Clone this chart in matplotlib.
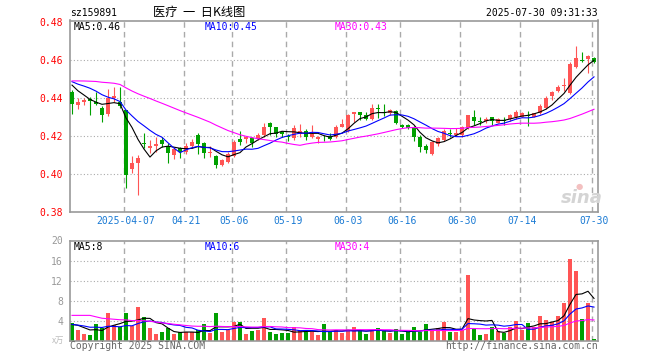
import numpy as np
import pandas as pd
import matplotlib
matplotlib.use('Agg')
import matplotlib.pyplot as plt

#### Data

code = 'sz159891'
title = '医疗  一  日K线图'
stamp = '2025-07-30 09:31:33'

holidays = ['2025-04-04', '2025-05-01', '2025-05-02', '2025-05-05', '2025-06-02']
days = pd.bdate_range('2025-03-24', '2025-07-30')
days = days[~days.isin(pd.to_datetime(holidays))]

tick_dates = ['2025-04-07', '2025-04-21', '2025-05-06', '2025-05-19', '2025-06-03',
              '2025-06-16', '2025-06-30', '2025-07-14', '2025-07-30']
tick_labels = ['2025-04-07', '04-21', '05-06', '05-19', '06-03',
               '06-16', '06-30', '07-14', '07-30']

# closes before the window, only used to seed the moving averages
pre_close = [0.438, 0.440, 0.442, 0.441, 0.4435, 0.447, 0.450, 0.455, 0.453, 0.456,
             0.452, 0.454, 0.451, 0.455, 0.4525, 0.449, 0.452, 0.450, 0.451, 0.452,
             0.451, 0.449, 0.450, 0.452, 0.450, 0.453, 0.450, 0.450, 0.444]

opens = [0.4432, 0.4362, 0.4379, 0.4393, 0.4379, 0.4347, 0.4316, 0.4402, 0.4380, 0.4337,
         0.4026, 0.4060, 0.4162, 0.4139, 0.4147, 0.4179, 0.4147, 0.4100, 0.4135, 0.4117,
         0.4147, 0.4205, 0.4162, 0.4109, 0.4095, 0.4047, 0.4065, 0.4095, 0.4182, 0.4182,
         0.4188, 0.4182, 0.4204, 0.4267, 0.4246, 0.4219, 0.4197, 0.4188, 0.4209, 0.4226,
         0.4196, 0.4186, 0.4186, 0.4200, 0.4196, 0.4249, 0.4228, 0.4316, 0.4326, 0.4311,
         0.4288, 0.4349, 0.4325, 0.4323, 0.4333, 0.4256, 0.4258, 0.4244, 0.4196, 0.4149,
         0.4105, 0.4156, 0.4179, 0.4217, 0.4205, 0.4205, 0.4240, 0.4298, 0.4277, 0.4281,
         0.4298, 0.4270, 0.4284, 0.4288, 0.4298, 0.4302, 0.4311, 0.4302, 0.4319, 0.4346,
         0.4412, 0.4437, 0.4462, 0.4425, 0.4565, 0.4600, 0.4605, 0.4612]
highs = [0.4440, 0.4398, 0.4400, 0.4404, 0.4433, 0.4358, 0.4447, 0.4456, 0.4456, 0.4337,
         0.4095, 0.4100, 0.4215, 0.4180, 0.4197, 0.4196, 0.4165, 0.4144, 0.4144, 0.4162,
         0.4182, 0.4214, 0.4170, 0.4147, 0.4100, 0.4080, 0.4117, 0.4179, 0.4226, 0.4200,
         0.4196, 0.4215, 0.4270, 0.4272, 0.4249, 0.4226, 0.4210, 0.4258, 0.4262, 0.4235,
         0.4258, 0.4198, 0.4205, 0.4217, 0.4258, 0.4288, 0.4316, 0.4328, 0.4328, 0.4328,
         0.4368, 0.4368, 0.4368, 0.4342, 0.4337, 0.4263, 0.4263, 0.4254, 0.4203, 0.4158,
         0.4172, 0.4196, 0.4235, 0.4235, 0.4244, 0.4254, 0.4312, 0.4337, 0.4302, 0.4298,
         0.4300, 0.4293, 0.4302, 0.4316, 0.4337, 0.4325, 0.4332, 0.4323, 0.4367, 0.4412,
         0.4437, 0.4468, 0.4504, 0.4591, 0.4674, 0.4644, 0.4625, 0.4614]
lows = [0.4314, 0.4342, 0.4365, 0.4310, 0.4363, 0.4275, 0.4307, 0.4377, 0.4350, 0.3925,
        0.4004, 0.3891, 0.4135, 0.4112, 0.4118, 0.4144, 0.4060, 0.4080, 0.4082, 0.4105,
        0.4135, 0.4104, 0.4082, 0.4088, 0.4033, 0.4042, 0.4056, 0.4091, 0.4153, 0.4162,
        0.4144, 0.4180, 0.4196, 0.4205, 0.4196, 0.4196, 0.4175, 0.4180, 0.4196, 0.4180,
        0.4190, 0.4162, 0.4175, 0.4180, 0.4191, 0.4246, 0.4223, 0.4275, 0.4284, 0.4284,
        0.4284, 0.4293, 0.4305, 0.4312, 0.4265, 0.4242, 0.4235, 0.4175, 0.4118, 0.4112,
        0.4098, 0.4147, 0.4175, 0.4196, 0.4202, 0.4196, 0.4238, 0.4258, 0.4260, 0.4267,
        0.4258, 0.4267, 0.4258, 0.4281, 0.4291, 0.4298, 0.4254, 0.4298, 0.4314, 0.4342,
        0.4388, 0.4430, 0.4437, 0.4419, 0.4556, 0.4591, 0.4530, 0.4585]
closes = [0.4370, 0.4379, 0.4389, 0.4386, 0.4368, 0.4312, 0.4400, 0.4412, 0.4358, 0.3995,
          0.4060, 0.4086, 0.4158, 0.4147, 0.4158, 0.4160, 0.4109, 0.4133, 0.4117, 0.4147,
          0.4168, 0.4158, 0.4109, 0.4117, 0.4047, 0.4074, 0.4105, 0.4168, 0.4168, 0.4196,
          0.4162, 0.4205, 0.4249, 0.4249, 0.4211, 0.4210, 0.4195, 0.4244, 0.4226, 0.4196,
          0.4209, 0.4196, 0.4182, 0.4186, 0.4249, 0.4262, 0.4311, 0.4326, 0.4311, 0.4291,
          0.4349, 0.4341, 0.4322, 0.4337, 0.4270, 0.4250, 0.4240, 0.4196, 0.4140, 0.4126,
          0.4170, 0.4188, 0.4228, 0.4212, 0.4217, 0.4246, 0.4311, 0.4280, 0.4274, 0.4288,
          0.4281, 0.4288, 0.4280, 0.4311, 0.4328, 0.4319, 0.4306, 0.4319, 0.4360, 0.4402,
          0.4430, 0.4460, 0.4468, 0.4577, 0.4609, 0.4596, 0.4623, 0.4588]

# volume in 万 (10k), with the sessions before the window for the averages
pre_vol = [2.1, 1.3, 1.1, 12.0, 11.0, 8.5, 6.2, 5.7, 6.5, 7.0,
           6.5, 5.8, 6.2, 5.5, 6.8, 5.9, 6.1, 5.2, 5.4, 5.2,
           3.5, 3.0, 3.6, 3.2, 3.2, 3.0, 3.6, 3.4, 3.0]
volume = [3.5, 2.1, 1.3, 1.1, 3.3, 2.6, 5.5, 3.2, 2.7, 5.5,
          2.9, 6.7, 4.8, 2.6, 1.3, 1.7, 2.5, 1.3, 1.7, 1.7,
          1.7, 2.1, 3.3, 1.5, 5.5, 1.7, 2.1, 3.7, 3.7, 1.3,
          1.9, 2.1, 4.5, 1.7, 1.3, 1.5, 1.5, 2.8, 2.0, 1.7,
          1.7, 1.2, 3.3, 1.8, 2.1, 1.5, 2.1, 2.7, 2.1, 1.4,
          2.1, 2.5, 2.1, 1.6, 2.3, 1.4, 1.8, 2.7, 1.8, 3.3,
          2.1, 2.5, 3.7, 1.7, 1.7, 2.1, 13.1, 2.3, 1.1, 1.3,
          2.7, 1.9, 1.6, 2.8, 3.9, 2.1, 3.5, 2.7, 4.9, 4.1,
          3.7, 4.9, 7.5, 16.3, 13.9, 4.3, 7.5, 0.4]

ma_periods = [5, 10, 30]
ma_colors = ['black', '#0000ff', '#ff00ff']

UP = '#ff5555'
DOWN = '#00a000'
GRID = '#aaaaaa'
MONO = 'DejaVu Sans Mono'
CJK = ['Noto Sans CJK SC', 'DejaVu Sans']

#### Helpers

W, H = 660, 360


def moving_averages(pre, values):
    s = pd.Series(pre + values)
    return [s.rolling(n).mean().values[len(pre):] for n in ma_periods]


def px_axes(fig, x0, y0, x1, y1):
    return fig.add_axes([x0 / W, 1 - y1 / H, (x1 - x0) / W, (y1 - y0) / H])


def ftext(fig, x, y, s, **kw):
    kw.setdefault('family', MONO)
    kw.setdefault('fontsize', 7)
    kw.setdefault('va', 'center')
    return fig.text(x / W, 1 - y / H, s, **kw)


def style_axes(ax, xpos):
    for sp in ax.spines.values():
        sp.set_color('#999999')
        sp.set_linewidth(1.2)
    ax.tick_params(length=0)
    for p in xpos:
        ax.axvline(p - 1 / 3, color=GRID, ls=(0, (4, 3)), lw=1.0, zorder=0)


#### Plot

x = np.arange(len(closes))
o, h, l, c = map(np.array, (opens, highs, lows, closes))
up = c >= o
colors = np.where(up, UP, DOWN)
xpos = [days.get_loc(pd.Timestamp(d)) for d in tick_dates]

price_ma = moving_averages(pre_close, closes)
vol_ma = moving_averages(pre_vol, volume)

fig = plt.figure(figsize=(W / 100, H / 100), dpi=100)

# price panel
ax = px_axes(fig, 70, 20.5, 598, 212)
ax.set_xlim(-1 / 3, 87 + 2 / 3)
ax.set_ylim(0.38, 0.4808)
style_axes(ax, xpos)
for g in [0.40, 0.42, 0.44, 0.46]:
    ax.axhline(g, color=GRID, ls=(0, (1, 2)), lw=0.8, zorder=0)

ax.vlines(x, l, h, colors=colors, lw=0.8, zorder=2)
body = np.maximum(np.abs(c - o), 0.0004)
ax.bar(x, body, bottom=np.minimum(o, c), width=0.78, color=colors, lw=0, zorder=3)
for ma, col in zip(price_ma, ma_colors):
    ax.plot(x, ma, color=col, lw=0.8, zorder=4)

ax.set_yticks([0.38, 0.40, 0.42, 0.44, 0.46, 0.48])
ax.set_yticklabels(['%.2f' % v for v in ax.get_yticks()], family=MONO,
                   fontsize=7, color='#ff0000')
ax.set_xticks(xpos)
ax.set_xticklabels(tick_labels, family=MONO, fontsize=7, color='#1a7ad4')
ax.tick_params(axis='y', pad=5)
ax.tick_params(axis='x', pad=3)

# volume panel
axv = px_axes(fig, 70, 240.5, 598, 341)
axv.set_xlim(-1 / 3, 87 + 2 / 3)
axv.set_ylim(0, 20)
style_axes(axv, xpos)
for g in [4, 8, 12, 16]:
    axv.axhline(g, color=GRID, ls=(0, (1, 2)), lw=0.8, zorder=0)
axv.bar(x, volume, width=0.8, color=colors, lw=0, zorder=2)
for ma, col in zip(vol_ma, ma_colors):
    axv.plot(x, ma, color=col, lw=0.8, zorder=4)
axv.set_xticks([])
axv.set_yticks([4, 8, 12, 16, 20])
axv.set_yticklabels(['4', '8', '12', '16', '20'], family=MONO, fontsize=7,
                    color='#999999')
axv.tick_params(axis='y', pad=5)

#### Texts

ftext(fig, 70, 13, code)
ftext(fig, 199, 12.5, title, family=CJK, fontsize=8.8, ha='center')
ftext(fig, 598, 13, stamp, ha='right')

label_x = [74, 205, 335]
for n, ma, col, lx in zip(ma_periods, price_ma, ma_colors, label_x):
    ftext(fig, lx, 26.5, 'MA%d:%.2f' % (n, ma[-1]), color=col)
for n, ma, col, lx in zip(ma_periods, vol_ma, ma_colors, label_x):
    ftext(fig, lx, 246.5, 'MA%d:%d' % (n, int(ma[-1])), color=col)

ftext(fig, 64, 340, 'x万', family=CJK, fontsize=6, color='#bbbbbb', ha='right')
ftext(fig, 70, 346, 'Copyright 2025 SINA.COM', color='#666666')
ftext(fig, 598, 346, 'http://finance.sina.com.cn', color='#666666', ha='right')

# faint sina watermark
ftext(fig, 582, 198, 'sina', family='DejaVu Sans', fontsize=13, weight='bold',
      style='italic', color='#d4d4d4', ha='center')
ftext(fig, 579, 186, '●', family='DejaVu Sans', fontsize=6, color='#f3c0c0',
      ha='center')

fig.savefig('out.png', dpi=100)
